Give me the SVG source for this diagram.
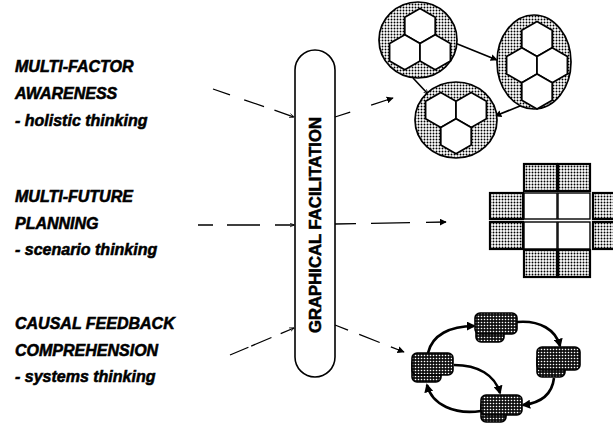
<svg xmlns="http://www.w3.org/2000/svg" width="613" height="423" viewBox="0 0 613 423">
<defs>
  <pattern id="dots" width="3" height="3" patternUnits="userSpaceOnUse">
    <rect width="3" height="3" fill="#fff"/>
    <circle cx="1.5" cy="1.5" r="0.95" fill="#000"/>
  </pattern>
  <pattern id="dark" width="3" height="3" patternUnits="userSpaceOnUse">
    <rect width="3" height="3" fill="#111"/>
    <circle cx="1.5" cy="1.5" r="0.8" fill="#fff"/>
  </pattern>
  <polygon id="hex" points="0,-17.5 15.2,-8.75 15.2,8.75 0,17.5 -15.2,8.75 -15.2,-8.75" fill="#fff" stroke="#000" stroke-width="1.7" stroke-linejoin="miter"/>
  <marker id="ah" viewBox="0 0 10 10" refX="9" refY="5" markerWidth="7" markerHeight="7" markerUnits="userSpaceOnUse" orient="auto">
    <path d="M0,0 L10,5 L0,10 z" fill="#000"/>
  </marker>
  <marker id="ahs" viewBox="0 0 10 10" refX="9" refY="5" markerWidth="5" markerHeight="5" markerUnits="userSpaceOnUse" orient="auto">
    <path d="M0,1 L10,5 L0,9" fill="none" stroke="#000" stroke-width="1.5"/>
  </marker>
  <marker id="ahb" viewBox="0 0 10 10" refX="8" refY="5" markerWidth="9" markerHeight="9" markerUnits="userSpaceOnUse" orient="auto">
    <path d="M0,0 L10,5 L0,10 z" fill="#000"/>
  </marker>
</defs>
<style>
  .lbl { font-family: "Liberation Sans", Arial, sans-serif; font-size: 16px; font-weight: bold; font-style: italic; fill: #000; stroke: #000; stroke-width: 0.55px; }
  .pilltxt { font-family: "Liberation Sans", Arial, sans-serif; font-size: 16px; font-weight: bold; fill: #000; stroke: #000; stroke-width: 0.5px; }
  .dash { fill: none; stroke: #000; stroke-width: 1.3; }
  .solid { fill: none; stroke: #000; stroke-width: 1.7; }
  .loop { fill: none; stroke: #000; stroke-width: 2.6; }
  .blob { fill: url(#dots); stroke: #000; stroke-width: 1.7; }
  .cellg { fill: url(#dots); stroke: #000; stroke-width: 2.2; }
  .cellw { fill: #fff; stroke: #000; stroke-width: 1.4; }
  .card { fill: url(#dark); stroke: #000; stroke-width: 1.6; }
</style>

<g id="label-factor">
  <text class="lbl" x="15" y="72">MULTI-FACTOR</text>
  <text class="lbl" x="15" y="99">AWARENESS</text>
  <text class="lbl" x="15" y="126">- holistic thinking</text>
</g>
<g id="label-future">
  <text class="lbl" x="15" y="202">MULTI-FUTURE</text>
  <text class="lbl" x="15" y="229">PLANNING</text>
  <text class="lbl" x="15" y="255">- scenario thinking</text>
</g>
<g id="label-causal">
  <text class="lbl" x="15" y="329">CAUSAL FEEDBACK</text>
  <text class="lbl" x="15" y="356">COMPREHENSION</text>
  <text class="lbl" x="15" y="382">- systems thinking</text>
</g>

<g id="pill">
  <rect x="295" y="50" width="40" height="327" rx="20" ry="20" fill="#fff" stroke="#000" stroke-width="1.6"/>
  <text class="pilltxt" transform="translate(321,225) rotate(-90)" x="0" y="0" text-anchor="middle" textLength="216" lengthAdjust="spacingAndGlyphs">GRAPHICAL FACILITATION</text>
</g>

<g id="connectors">
  <line class="dash" x1="213" y1="89" x2="294" y2="117" stroke-dasharray="18 15 21 11 20" marker-end="url(#ahs)"/>
  <line class="dash" x1="198" y1="225" x2="294" y2="225" stroke-dasharray="15 14 33 15 20" marker-end="url(#ahs)"/>
  <line class="dash" x1="230" y1="355" x2="294" y2="328" stroke-dasharray="20 3 22 10 20" marker-end="url(#ahs)"/>
  <line class="dash" x1="335" y1="117" x2="393" y2="98" stroke-dasharray="16 22 30" marker-end="url(#ah)"/>
  <line class="dash" x1="335" y1="224" x2="446" y2="222" stroke-dasharray="21 15 39 16 30" marker-end="url(#ah)"/>
  <line class="dash" x1="335" y1="325" x2="404" y2="352" stroke-dasharray="14 12 22 12 30" marker-end="url(#ah)"/>

  <line class="solid" x1="455" y1="43" x2="497" y2="60" marker-end="url(#ah)"/>
  <line class="solid" x1="413" y1="78" x2="428" y2="94" marker-end="url(#ahs)"/>
  <line class="solid" x1="520" y1="106" x2="495" y2="116" marker-end="url(#ah)"/>

  <path class="loop" d="M428 353 C432 335 450 326 474 326" marker-end="url(#ahb)"/>
  <path class="loop" d="M517 322 C540 320 556 330 560 346" marker-end="url(#ahb)"/>
  <path class="loop" d="M554 378 C552 395 540 403 523 405" marker-end="url(#ahb)"/>
  <path class="loop" d="M481 411 C455 415 432 405 427 385" marker-end="url(#ahb)"/>
  <path class="loop" d="M454 365 C478 365 495 375 500 393" marker-end="url(#ahb)"/>
</g>

<g id="cluster-1">
  <ellipse class="blob" cx="418" cy="40" rx="39" ry="38"/>
  <use href="#hex" x="420" y="26"/>
  <use href="#hex" x="404.8" y="52.25"/>
  <use href="#hex" x="435.2" y="52.25"/>
</g>
<g id="cluster-2">
  <ellipse class="blob" cx="534" cy="62" rx="37" ry="47"/>
  <use href="#hex" x="537" y="39"/>
  <use href="#hex" x="521.8" y="65.25"/>
  <use href="#hex" x="552.2" y="65.25"/>
  <use href="#hex" x="537" y="91.5"/>
</g>
<g id="cluster-3">
  <ellipse class="blob" cx="456" cy="120" rx="41" ry="38"/>
  <use href="#hex" x="440.8" y="110"/>
  <use href="#hex" x="471.2" y="110"/>
  <use href="#hex" x="456" y="136.25"/>
</g>

<g id="grid">
  <rect class="cellg" x="524" y="164" width="33" height="27"/>
  <rect class="cellg" x="558" y="164" width="32" height="27"/>
  <rect class="cellg" x="490" y="193" width="33" height="26"/>
  <rect class="cellw" x="524" y="193" width="33" height="26"/>
  <rect class="cellw" x="558" y="193" width="32" height="26"/>
  <rect class="cellg" x="593" y="193" width="33" height="26"/>
  <rect class="cellg" x="490" y="222" width="33" height="27"/>
  <rect class="cellw" x="524" y="222" width="33" height="27"/>
  <rect class="cellw" x="558" y="222" width="32" height="27"/>
  <rect class="cellg" x="593" y="222" width="33" height="27"/>
  <rect class="cellg" x="524" y="250" width="33" height="27"/>
  <rect class="cellg" x="558" y="250" width="32" height="27"/>
</g>

<g id="box-top">
  <rect class="card" x="476" y="318" width="28" height="24" rx="5"/>
  <rect class="card" x="475" y="313" width="42" height="21" rx="5"/>
</g>
<g id="box-right">
  <rect class="card" x="537" y="354" width="28" height="23" rx="5"/>
  <rect class="card" x="537" y="347" width="43" height="23" rx="5"/>
</g>
<g id="box-left">
  <rect class="card" x="412" y="358" width="29" height="24" rx="5"/>
  <rect class="card" x="412" y="353" width="41" height="22" rx="5"/>
</g>
<g id="box-bottom">
  <rect class="card" x="481" y="400" width="25" height="22" rx="5"/>
  <rect class="card" x="481" y="395" width="41" height="20" rx="5"/>
</g>
</svg>
